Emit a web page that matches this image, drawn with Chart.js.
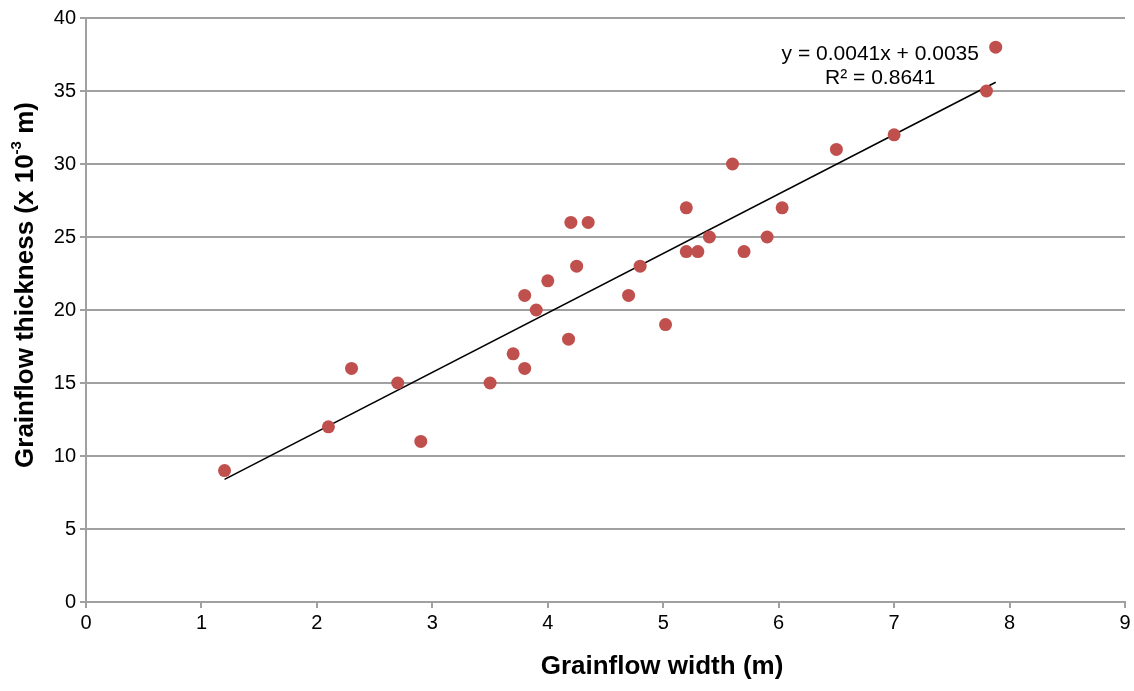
<!DOCTYPE html>
<html>
<head>
<meta charset="utf-8">
<script src="https://cdn.jsdelivr.net/npm/chart.js@4"></script>
<style>
  body { margin: 0; background: #fff; }
  #wrap { width: 1134px; height: 691px; }
</style>
</head>
<body>
<div id="wrap"><canvas id="myChart" width="1134" height="691"></canvas></div>
<script>
// grainflow width (m) and thickness (x 10^-3 m)
let widths = [1.2, 2.1, 2.3, 2.7, 2.9, 3.5, 3.7, 3.8, 3.8, 3.9, 4.0, 4.18, 4.2, 4.25, 4.35,
              4.7, 4.8, 5.02, 5.2, 5.2, 5.3, 5.4, 5.6, 5.7, 5.9, 6.03, 6.5, 7.0, 7.8, 7.88];
let thickness = [9, 12, 16, 15, 11, 15, 17, 21, 16, 20, 22, 18, 26, 23, 26,
                 21, 23, 19, 27, 24, 24, 25, 30, 24, 25, 27, 31, 32, 35, 38];

// linear trend line ends
let trendX = [1.2, 7.88];
let trendY = [8.4, 35.6];

let xTicks = [0, 1, 2, 3, 4, 5, 6, 7, 8, 9];
let yTicks = [0, 5, 10, 15, 20, 25, 30, 35, 40];

let eqLines = ['y = 0.0041x + 0.0035', 'R\u00b2 = 0.8641'];

let points = widths.map((w, i) => ({ x: w, y: thickness[i] }));
let trend = trendX.map((x, i) => ({ x: x, y: trendY[i] }));

let font = "'Liberation Sans', Arial, sans-serif";
let gridColor = '#a0a0a0';

let titlesPlugin = {
    id: 'titles',
    afterDraw(chart) {
        let ctx = chart.ctx;
        let xs = chart.scales.x, ys = chart.scales.y;
        ctx.save();
        ctx.fillStyle = '#000';

        // equation label
        ctx.font = '21px ' + font;
        ctx.textAlign = 'center';
        ctx.textBaseline = 'middle';
        ctx.fillText(eqLines[0], xs.getPixelForValue(6.88), ys.getPixelForValue(37.5));
        ctx.fillText(eqLines[1], xs.getPixelForValue(6.88), ys.getPixelForValue(35.85));

        // x axis title
        ctx.font = 'bold 26px ' + font;
        ctx.fillText('Grainflow width (m)', 662, 667);

        // y axis title with superscript
        ctx.translate(26, 285);
        ctx.rotate(-Math.PI / 2);
        let a = 'Grainflow thickness (x 10', sup = '-3', b = ' m)';
        ctx.font = 'bold 26px ' + font;
        let wa = ctx.measureText(a).width, wb = ctx.measureText(b).width;
        ctx.font = 'bold 15px ' + font;
        let ws = ctx.measureText(sup).width;
        let x0 = -(wa + ws + wb) / 2;
        ctx.textAlign = 'left';
        ctx.font = 'bold 26px ' + font;
        ctx.fillText(a, x0, 0);
        ctx.font = 'bold 15px ' + font;
        ctx.fillText(sup, x0 + wa, -9);
        ctx.font = 'bold 26px ' + font;
        ctx.fillText(b, x0 + wa + ws, 0);
        ctx.restore();
    }
};

let chart1 = new Chart(document.getElementById('myChart').getContext('2d'), {
    type: 'scatter',
    data: {
        datasets: [{
            label: 'data',
            data: points,
            backgroundColor: '#c0504d',
            borderColor: '#c0504d',
            pointRadius: 6.5,
            pointBorderWidth: 0,
            order: 1
        }, {
            label: 'trend',
            type: 'line',
            data: trend,
            borderColor: '#000',
            borderWidth: 1.6,
            pointRadius: 0,
            fill: false,
            order: 2
        }]
    },
    options: {
        responsive: false,
        animation: false,
        layout: { padding: { top: 18, right: 9, left: 0, bottom: 0 } },
        plugins: {
            legend: { display: false },
            tooltip: { enabled: false }
        },
        scales: {
            x: {
                type: 'linear',
                min: 0, max: 9,
                afterBuildTicks: s => { s.ticks = xTicks.map(v => ({ value: v })); },
                afterFit: s => { s.height = 89; },
                grid: { drawOnChartArea: false, drawTicks: true, tickLength: 6, color: gridColor, lineWidth: 2 },
                border: { color: gridColor, width: 2 },
                ticks: { color: '#000', font: { family: font, size: 20 }, padding: 3 }
            },
            y: {
                type: 'linear',
                min: 0, max: 40,
                afterBuildTicks: s => { s.ticks = yTicks.map(v => ({ value: v })); },
                afterFit: s => { s.width = 86; },
                grid: { color: gridColor, lineWidth: 2, tickLength: 6 },
                border: { color: gridColor, width: 2 },
                ticks: { color: '#000', font: { family: font, size: 20 }, padding: 4 }
            }
        }
    },
    plugins: [titlesPlugin]
});
</script>
</body>
</html>
